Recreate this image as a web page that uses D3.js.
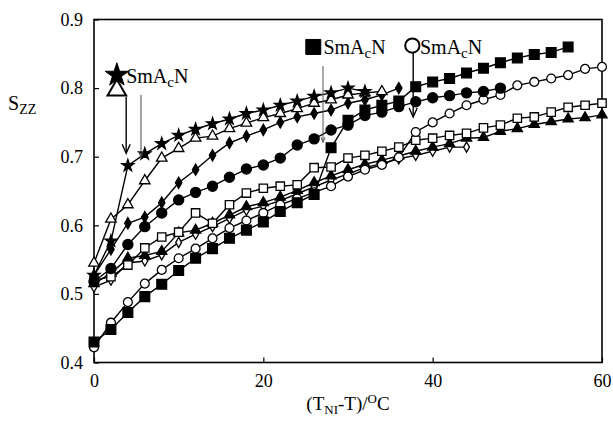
<!DOCTYPE html>
<html>
<head>
<meta charset="utf-8">
<script src="https://cdn.jsdelivr.net/npm/d3@7"></script>
<style>
  body { margin: 0; background: #fff; }
  text { font-family: "Liberation Serif", "Times New Roman", serif; fill: #000; }
</style>
</head>
<body>
<svg id="chart" width="613" height="427"></svg>
<script>
// temperature steps (T_NI - T) in degC, every series starts at 0
const temps = [0,2,4,6,8,10,12,14,16,18,20,22,24,26,28,30,32,34,36,38,40,42,44,46,48,50,52,54,56,58,60];

// order parameter S_zz per compound
const starVals     = [0.527,0.577,0.687,0.704,0.719,0.731,0.740,0.748,0.755,0.763,0.768,0.775,0.781,0.788,0.793,0.800,0.795];
const triOpenVals  = [0.545,0.609,0.630,0.665,0.698,0.712,0.727,0.730,0.741,0.749,0.757,0.763,0.770,0.778,0.783,0.790,0.793,0.795];
const diamondVals  = [0.527,0.565,0.603,0.612,0.633,0.662,0.681,0.702,0.720,0.730,0.739,0.750,0.758,0.763,0.768,0.778,0.783,0.790,0.800];
const circleVals   = [0.518,0.537,0.572,0.598,0.618,0.637,0.648,0.657,0.670,0.682,0.688,0.698,0.717,0.726,0.739,0.746,0.760,0.765,0.773,0.780,0.786,0.789,0.793,0.795,0.800];
const squareVals   = [0.430,0.448,0.473,0.496,0.514,0.534,0.552,0.566,0.581,0.593,0.605,0.620,0.633,0.645,0.713,0.753,0.768,0.775,0.781,0.802,0.809,0.814,0.822,0.829,0.837,0.844,0.849,0.852,0.860];
const circOpenVals = [0.422,0.458,0.488,0.515,0.535,0.552,0.566,0.581,0.596,0.607,0.618,0.630,0.639,0.648,0.657,0.671,0.681,0.688,0.699,0.736,0.750,0.763,0.775,0.783,0.790,0.804,0.809,0.814,0.819,0.828,0.831];
const sqOpenVals   = [0.520,0.525,0.542,0.567,0.583,0.590,0.618,0.603,0.630,0.647,0.654,0.657,0.659,0.684,0.685,0.698,0.702,0.708,0.714,0.724,0.727,0.731,0.734,0.742,0.746,0.756,0.758,0.765,0.772,0.775,0.778];
const triVals      = [0.515,0.530,0.552,0.556,0.562,0.589,0.593,0.603,0.615,0.627,0.633,0.641,0.651,0.662,0.672,0.681,0.689,0.695,0.701,0.708,0.714,0.719,0.727,0.728,0.737,0.741,0.747,0.751,0.755,0.757,0.761];
const diaOpenVals  = [0.510,0.520,0.545,0.548,0.557,0.575,0.587,0.598,0.610,0.622,0.628,0.636,0.646,0.656,0.666,0.675,0.684,0.690,0.697,0.702,0.708,0.714,0.714];

const yTicks = [0.4,0.5,0.6,0.7,0.8,0.9];
const xTicks = [0,20,40,60];

const svg = d3.select("#chart");
const x = d3.scaleLinear().domain([0, 60]).range([94, 602]);
const y = d3.scaleLinear().domain([0.4, 0.9]).range([362.5, 19.5]);

const series = [
  {vals: diaOpenVals,  type: d3.symbolDiamond,  size: 30,  open: true},
  {vals: triVals,      type: d3.symbolTriangle, size: 45,  open: false},
  {vals: sqOpenVals,   type: d3.symbolSquare,   size: 70,  open: true},
  {vals: circOpenVals, type: d3.symbolCircle,   size: 62,  open: true},
  {vals: squareVals,   type: d3.symbolSquare,   size: 95,  open: false},
  {vals: circleVals,   type: d3.symbolCircle,   size: 80,  open: false},
  {vals: diamondVals,  type: d3.symbolDiamond,  size: 36,  open: false},
  {vals: triOpenVals,  type: d3.symbolTriangle, size: 48,  open: true},
  {vals: starVals,     type: d3.symbolStar,     size: 44,  open: false}
];

// frame
svg.append("rect")
  .attr("x", x(0)).attr("y", y(0.9))
  .attr("width", x(60) - x(0)).attr("height", y(0.4) - y(0.9))
  .attr("fill", "none").attr("stroke", "#000").attr("stroke-width", 1.6);

// axes, ticks pointing inward
const yAxis = svg.append("g")
  .attr("transform", `translate(${x(0)},0)`)
  .call(d3.axisLeft(y).tickValues(yTicks).tickSize(-5).tickPadding(11).tickFormat(d3.format(".1f")));
const xAxis = svg.append("g")
  .attr("transform", `translate(0,${y(0.4)})`)
  .call(d3.axisBottom(x).tickValues(xTicks).tickSize(-5).tickPadding(12).tickFormat(d3.format("d")));
[yAxis, xAxis].forEach(a => {
  a.select(".domain").remove();
  a.selectAll("line").attr("stroke", "#000").attr("stroke-width", 1.2);
  a.selectAll("text").style("font-family", '"Liberation Serif", serif').style("font-size", "18px").attr("fill", "#000");
});

// lines
const line = d3.line().x((d, i) => x(temps[i])).y(d => y(d));
series.forEach(s => {
  svg.append("path")
    .datum(s.vals)
    .attr("d", line)
    .attr("fill", "none")
    .attr("stroke", "#000")
    .attr("stroke-width", 1.4);
});

// markers
series.forEach(s => {
  svg.append("g").selectAll("path")
    .data(s.vals)
    .join("path")
    .attr("d", d3.symbol().type(s.type).size(s.size))
    .attr("transform", (d, i) => `translate(${x(temps[i])},${y(d)})`)
    .attr("fill", s.open ? "#fff" : "#000")
    .attr("stroke", "#000")
    .attr("stroke-width", 1.3);
});

// SmAcN annotations: transition markers and arrows (in data units)
const notes = [
  {t: 2.7,  s: 0.819, type: d3.symbolStar,     size: 170, open: false},
  {t: 2.7,  s: 0.797, type: d3.symbolTriangle, size: 150, open: true},
  {t: 25.9, s: 0.860, type: d3.symbolSquare,   size: 225, open: false},
  {t: 37.6, s: 0.862, type: d3.symbolCircle,   size: 160, open: true}
];
notes.forEach(n => {
  svg.append("path")
    .attr("d", d3.symbol().type(n.type).size(n.size))
    .attr("transform", `translate(${x(n.t)},${y(n.s)})`)
    .attr("fill", n.open ? "#fff" : "#000")
    .attr("stroke", "#000")
    .attr("stroke-width", n.open ? 2 : 1);
});

const arrows = [
  {t: 3.8,  top: 0.787, bottom: 0.705, head: true,  color: "#000", w: 1.4},
  {t: 5.55, top: 0.790, bottom: 0.699, head: false, color: "#444", w: 1},
  {t: 27.05, top: 0.832, bottom: 0.721, head: false, color: "#555", w: 1},
  {t: 37.7, top: 0.853, bottom: 0.758, head: true,  color: "#000", w: 1.4}
];
arrows.forEach(a => {
  const ax = x(a.t), y0 = y(a.top), y1 = y(a.bottom);
  svg.append("line")
    .attr("x1", ax).attr("x2", ax).attr("y1", y0).attr("y2", y1)
    .attr("stroke", a.color).attr("stroke-width", a.w);
  svg.append("path")
    .attr("d", a.head ? `M${ax - 4},${y1 - 9}L${ax},${y1}L${ax + 4},${y1 - 9}` : `M${ax - 2},${y1 - 5}L${ax},${y1}L${ax + 2},${y1 - 5}`)
    .attr("fill", "none").attr("stroke", a.color).attr("stroke-width", a.w);
});

const labels = [{t: 3.8, s: 0.808}, {t: 27.1, s: 0.849}, {t: 38.5, s: 0.849}];
labels.forEach(l => {
  const tx = svg.append("text")
    .attr("x", x(l.t)).attr("y", y(l.s))
    .style("font-size", "20px");
  tx.append("tspan").text("SmA");
  tx.append("tspan").text("c").attr("dy", 4).style("font-size", "15px");
  tx.append("tspan").text("N").attr("dy", -4);
});

// axis titles
const yl = svg.append("text").attr("x", 8).attr("y", 110).style("font-size", "20px");
yl.append("tspan").text("S");
yl.append("tspan").text("ZZ").attr("dy", 4).style("font-size", "14px");

const xl = svg.append("text").attr("x", x(30)).attr("y", 410)
  .attr("text-anchor", "middle").style("font-size", "19px");
xl.append("tspan").text("(T");
xl.append("tspan").text("NI").attr("dy", 4).style("font-size", "13px");
xl.append("tspan").text("-T)/").attr("dy", -4);
xl.append("tspan").text("O").attr("dy", -7).style("font-size", "13px");
xl.append("tspan").text("C").attr("dy", 7);
</script>
</body>
</html>
